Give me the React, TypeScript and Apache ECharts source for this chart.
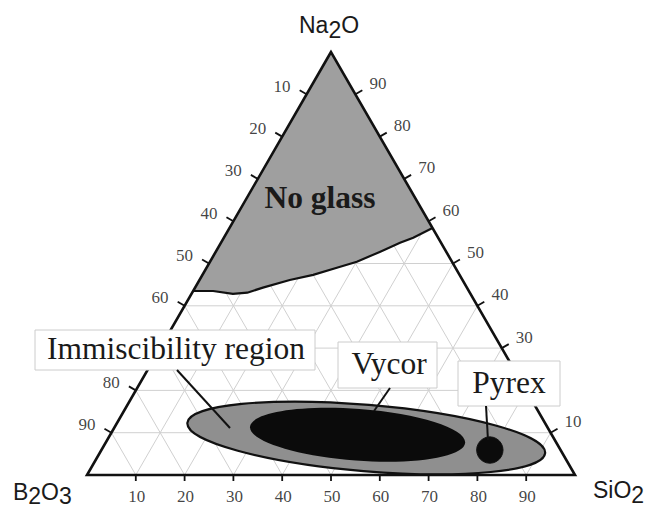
import React, { useEffect, useRef } from "react";
import * as echarts from "echarts";

// Axis ticks (percent) and grid spacing
const tickValues = [10, 20, 30, 40, 50, 60, 70, 80, 90];
const gridValues = [10, 20, 30, 40, 50, 60, 70, 80, 90];
// tick labels hidden behind the annotation boxes in the reference
const leftHiddenLabels = [70];
const rightHiddenLabels = [20];

// "No glass" boundary as (Na2O %, SiO2 %), from the B2O3 side to the SiO2 side
const noGlassNa2O = [43.5, 43.5, 42.8, 43.1, 44.3, 46.1, 47.3, 49.0, 50.4, 52.8, 54.9, 56.1, 58.4];
const noGlassSiO2 = [0, 4.1, 8.5, 11.3, 13.9, 18.5, 22.7, 26.7, 30.1, 33.7, 36.7, 38.8, 41.6];

// Regions drawn as ellipses: tips (Na2O %, SiO2 %) and half thickness (%)
const regionNames = ["Immiscibility region", "Vycor"];
const regionLeftNa2O = [12.3, 11.4];
const regionLeftSiO2 = [14.4, 27.7];
const regionRightNa2O = [5.2, 7.6];
const regionRightSiO2 = [91.3, 73.7];
const regionHalfWidth = [6.8, 5.3];

// Pyrex composition spot
const pyrexNa2O = [5.9];
const pyrexSiO2 = [79.6];
const pyrexRadius = [2.7];

const SQ = Math.sqrt(3) / 2;
const cart = (n: number, s: number) => [s + n / 2, n * SQ];

const SERIF = '"Liberation Serif", "Times New Roman", serif';
const SANS = '"Liberation Sans", Arial, sans-serif';

function txt(
  text: string,
  x: number,
  y: number,
  align: string,
  size: number,
  family: string,
  weight: string = "normal"
) {
  return {
    type: "text",
    x,
    y,
    style: {
      text,
      font: `${weight} ${size}px ${family}`,
      fontSize: size,
      fontFamily: family,
      fontWeight: weight,
      fill: "#1a1a1a",
      align,
      verticalAlign: "middle",
      textAlign: align,
      textVerticalAlign: "middle",
    },
  };
}

function seg(a: number[], b: number[], color = "#111", w = 1.8) {
  return {
    type: "line",
    shape: { x1: a[0], y1: a[1], x2: b[0], y2: b[1] },
    style: { stroke: color, lineWidth: w },
  };
}

function tickLabelSeries(name: string, pts: number[][], labels: number[], align: string, offset: number[]) {
  return {
    type: "scatter",
    name,
    silent: true,
    z: 6,
    symbol: "circle",
    symbolSize: 0.01,
    data: pts.map((p, i) => ({ value: p, name: String(labels[i]) })),
    label: {
      show: true,
      position: "inside",
      formatter: "{b}",
      align,
      verticalAlign: "middle",
      offset,
      fontFamily: SERIF,
      fontSize: 17,
      color: "#111111",
    },
  };
}

export default function App() {
  const ref = useRef<HTMLDivElement>(null);
  useEffect(() => {
    if (!ref.current) return;
    const chart = echarts.init(ref.current, undefined, { renderer: "svg" });

    const regionFills = ["#8f8f8f", "#0b0b0b"];

    const leftVals = tickValues.filter((v) => leftHiddenLabels.indexOf(v) < 0);
    const rightVals = tickValues.filter((v) => rightHiddenLabels.indexOf(v) < 0);

    const option: any = {
      animation: false,
      grid: { left: 87, right: 73, top: 52, bottom: 33 },
      xAxis: { type: "value", min: 0, max: 100, show: false },
      yAxis: { type: "value", min: 0, max: 100 * SQ, show: false },
      series: [
        {
          type: "custom",
          name: "grid",
          coordinateSystem: "cartesian2d",
          silent: true,
          z: 1,
          data: gridValues.map((v) => [v, 0]),
          renderItem: (params: any, api: any) => {
            const v = gridValues[params.dataIndex];
            const P = (n: number, s: number) => api.coord(cart(n, s));
            const c = "#d0d0d0";
            return {
              type: "group",
              children: [
                seg(P(v, 0), P(v, 100 - v), c, 1),
                seg(P(0, v), P(100 - v, v), c, 1),
                seg(P(0, 100 - v), P(100 - v, 0), c, 1),
              ],
            };
          },
        },
        {
          type: "custom",
          name: "No glass",
          coordinateSystem: "cartesian2d",
          silent: true,
          z: 2,
          data: [[20, 60]],
          renderItem: (params: any, api: any) => {
            const pts = noGlassNa2O.map((n, i) => api.coord(cart(n, noGlassSiO2[i])));
            const apex = api.coord(cart(100, 0));
            return {
              type: "group",
              children: [
                {
                  type: "polygon",
                  shape: { points: [...pts, apex] },
                  style: { fill: "#9f9f9f", stroke: "none" },
                },
                {
                  type: "polyline",
                  shape: { points: pts },
                  style: { stroke: "#111", lineWidth: 2.2, fill: "none" },
                },
              ],
            };
          },
        },
        {
          type: "custom",
          name: "regions",
          coordinateSystem: "cartesian2d",
          silent: true,
          z: 3,
          data: regionNames.map((_, i) => [(regionLeftSiO2[i] + regionRightSiO2[i]) / 2, 8]),
          renderItem: (params: any, api: any) => {
            const i = params.dataIndex;
            const p1 = api.coord(cart(regionLeftNa2O[i], regionLeftSiO2[i]));
            const p2 = api.coord(cart(regionRightNa2O[i], regionRightSiO2[i]));
            const dx = p2[0] - p1[0];
            const dy = p2[1] - p1[1];
            const rx = Math.hypot(dx, dy) / 2;
            const ry = api.size([regionHalfWidth[i], 0])[0];
            return {
              type: "ellipse",
              x: (p1[0] + p2[0]) / 2,
              y: (p1[1] + p2[1]) / 2,
              rotation: -Math.atan2(dy, dx),
              shape: { cx: 0, cy: 0, rx, ry },
              style: {
                fill: regionFills[i],
                stroke: i === 0 ? "#111" : "none",
                lineWidth: i === 0 ? 2.2 : 0,
              },
            };
          },
        },
        {
          type: "custom",
          name: "Pyrex",
          coordinateSystem: "cartesian2d",
          silent: true,
          z: 4,
          data: pyrexNa2O.map((n, i) => cart(n, pyrexSiO2[i])),
          renderItem: (params: any, api: any) => {
            const i = params.dataIndex;
            const c = api.coord(cart(pyrexNa2O[i], pyrexSiO2[i]));
            const r = api.size([pyrexRadius[i], 0])[0];
            return {
              type: "circle",
              shape: { cx: c[0], cy: c[1], r },
              style: { fill: "#0b0b0b", stroke: "#111", lineWidth: 1 },
            };
          },
        },
        {
          type: "custom",
          name: "frame",
          coordinateSystem: "cartesian2d",
          silent: true,
          z: 5,
          data: [[50, 40]],
          renderItem: (params: any, api: any) => {
            const P = (n: number, s: number) => api.coord(cart(n, s));
            const A = P(100, 0);
            const L = P(0, 0);
            const R = P(0, 100);
            const children: any[] = [
              {
                type: "polygon",
                shape: { points: [A, L, R] },
                style: { fill: "none", stroke: "#111", lineWidth: 2.6, lineJoin: "miter" },
              },
            ];
            tickValues.forEach((v) => {
              const b = P(0, v);
              children.push(seg(b, [b[0], b[1] + 6], "#111", 1.8));
              const l = P(100 - v, 0);
              children.push(seg(l, [l[0] - 8 * 0.866, l[1] - 8 * 0.5], "#111", 1.8));
              const r = P(v, 100 - v);
              children.push(seg(r, [r[0] + 8 * 0.866, r[1] - 8 * 0.5], "#111", 1.8));
            });
            return { type: "group", children };
          },
        },
        // SiO2 (bottom) tick labels
        tickLabelSeries("SiO2 ticks", tickValues.map((v) => cart(0, v)), tickValues, "center", [1, 21]),
        // B2O3 (left) tick labels
        tickLabelSeries("B2O3 ticks", leftVals.map((v) => cart(100 - v, 0)), leftVals, "right", [-16, -8]),
        // Na2O (right) tick labels
        tickLabelSeries("Na2O ticks", rightVals.map((v) => cart(v, 100 - v)), rightVals, "left", [14, -11]),
      ],
      graphic: {
        elements: [
          // "No glass"
          { ...txt("No glass", 320, 197, "center", 31.5, SERIF, "bold"), z: 100 },
          // Immiscibility region
          { type: "rect", z: 100, shape: { x: 35, y: 330, width: 280, height: 40 }, style: { fill: "#ffffff", stroke: "#cccccc", lineWidth: 1 } },
          { ...txt(regionNames[0], 176, 348, "center", 31.5, SERIF), z: 101 },
          { type: "line", z: 100, shape: { x1: 177, y1: 370, x2: 230, y2: 428 }, style: { stroke: "#111", lineWidth: 2 } },
          // Vycor
          { type: "rect", z: 100, shape: { x: 338, y: 342, width: 99, height: 46 }, style: { fill: "#ffffff", stroke: "#cccccc", lineWidth: 1 } },
          { ...txt(regionNames[1], 389, 363, "center", 31.5, SERIF), z: 101 },
          { type: "line", z: 100, shape: { x1: 390, y1: 388, x2: 374, y2: 411 }, style: { stroke: "#111", lineWidth: 2 } },
          // Pyrex
          { type: "rect", z: 100, shape: { x: 458, y: 361, width: 102, height: 45 }, style: { fill: "#ffffff", stroke: "#cccccc", lineWidth: 1 } },
          { ...txt("Pyrex", 509, 382, "center", 31.5, SERIF), z: 101 },
          { type: "line", z: 100, shape: { x1: 486, y1: 406, x2: 488, y2: 440 }, style: { stroke: "#111", lineWidth: 2 } },
          // Component titles (subscripts as separate, lowered texts)
          { ...txt("Na", 299, 24.5, "left", 23, SANS), z: 100 },
          { ...txt("2", 328.4, 29.5, "left", 23, SANS), z: 100 },
          { ...txt("O", 341.2, 24.5, "left", 23, SANS), z: 100 },
          { ...txt("B", 13, 492, "left", 23, SANS), z: 100 },
          { ...txt("2", 28.3, 496, "left", 23, SANS), z: 100 },
          { ...txt("O", 41.1, 492, "left", 23, SANS), z: 100 },
          { ...txt("3", 59, 496, "left", 23, SANS), z: 100 },
          { ...txt("SiO", 593, 490, "left", 23, SANS), z: 100 },
          { ...txt("2", 631.3, 495, "left", 23, SANS), z: 100 },
        ],
      },
    };

    chart.setOption(option);
    return () => chart.dispose();
  }, []);

  return (
    <div
      ref={ref}
      style={{ position: "fixed", left: 0, top: 0, width: 648, height: 508, background: "#ffffff" }}
    />
  );
}
